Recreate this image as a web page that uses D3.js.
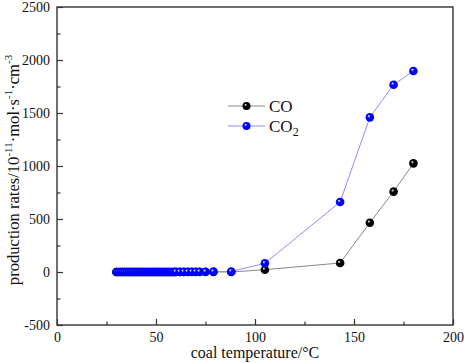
<!DOCTYPE html>
<html>
<head>
<meta charset="utf-8">
<style>
  body { margin: 0; background: #fff; }
  svg text { font-family: "Liberation Serif", "Times New Roman", serif; fill: #111; }
</style>
</head>
<body>
<svg id="chart" width="464" height="363"></svg>
<script src="https://d3js.org/d3.v7.min.js"></script>
<script>
// temperatures (°C)
var temps = [30, 31, 32, 33, 34, 35, 36, 37, 38, 39, 40, 41, 42, 43, 44, 45, 46, 47, 48, 49, 50,
             51, 52, 53, 54, 55, 56, 57, 58, 59, 60, 62, 64, 66, 68, 70, 72, 75, 79, 88,
             105, 143, 158, 170, 180];
// production rates, 10^-11 mol/(s·cm3)
var coVals = [0, 0, 0, 0, 0, 0, 0, 0, 0, 0, 0, 0, 0, 0, 0, 0, 0, 0, 0, 0, 0,
              0, 0, 0, 0, 0, 0, 0, 0, 0, 0, 0, 0, 0, 0, 0, 0, 0, 0, 0,
              22, 85, 465, 758, 1025];
var co2Vals = [0, 0, 0, 0, 0, 0, 0, 0, 0, 0, 0, 0, 0, 0, 0, 0, 0, 0, 0, 0, 0,
               0, 0, 0, 0, 0, 0, 0, 0, 0, 1, 1, 1, 2, 2, 3, 3, 3, 4, 5,
               82, 660, 1459, 1767, 1896];

var xTicks = [0, 50, 100, 150, 200];
var yTicks = [-500, 0, 500, 1000, 1500, 2000, 2500];

var series = [
    { name: "CO", values: coVals, line: "#888888", dot: "#000000" },
    { name: "CO2", values: co2Vals, line: "#8c8cff", dot: "#0000ff" }
];

var svg = d3.select("#chart");
var mLeft = 57, mRight = 453, mTop = 7, mBottom = 325;

var x = d3.scaleLinear().domain([0, 200]).range([mLeft, mRight]);
var y = d3.scaleLinear().domain([-500, 2500]).range([mBottom, mTop]);

// sphere gradients for markers
var defs = svg.append("defs");
series.forEach(function (s, i) {
    var g = defs.append("radialGradient")
        .attr("id", "ball" + i)
        .attr("cx", "50%").attr("cy", "50%").attr("r", "55%")
        .attr("fx", "35%").attr("fy", "32%");
    g.append("stop").attr("offset", "0%").attr("stop-color", "#ffffff");
    g.append("stop").attr("offset", "35%").attr("stop-color", s.dot);
    g.append("stop").attr("offset", "100%").attr("stop-color", s.dot);
});

// frame
svg.append("rect")
    .attr("x", mLeft).attr("y", mTop)
    .attr("width", mRight - mLeft).attr("height", mBottom - mTop)
    .attr("fill", "none").attr("stroke", "#333").attr("stroke-width", 1.4);

// x axis (ticks inside)
var xAxis = svg.append("g").attr("transform", "translate(0," + mBottom + ")")
    .call(d3.axisBottom(x).tickValues(d3.range(0, 201, 25)).tickSize(-5).tickFormat(function (d) {
        return xTicks.indexOf(d) >= 0 ? d : "";
    }));
xAxis.select(".domain").remove();
xAxis.selectAll("line").attr("stroke", "#333").attr("stroke-width", 1.2)
    .attr("y2", function (d) { return xTicks.indexOf(d) >= 0 ? -6 : -3.5; });
xAxis.selectAll("text").attr("y", 7).attr("font-size", 14);

// y axis (ticks inside)
var yAxis = svg.append("g").attr("transform", "translate(" + mLeft + ",0)")
    .call(d3.axisLeft(y).tickValues(d3.range(-500, 2501, 250)).tickSize(-5).tickFormat(function (d) {
        return yTicks.indexOf(d) >= 0 ? d : "";
    }));
yAxis.select(".domain").remove();
yAxis.selectAll("line").attr("stroke", "#333").attr("stroke-width", 1.2)
    .attr("x2", function (d) { return yTicks.indexOf(d) >= 0 ? 6 : 3.5; });
yAxis.selectAll("text").attr("x", -7).attr("font-size", 14);

// lines and markers
var line = d3.line()
    .x(function (d) { return x(d[0]); })
    .y(function (d) { return y(d[1]); });

series.forEach(function (s, i) {
    var pts = temps.map(function (t, j) { return [t, s.values[j]]; });
    svg.append("path").datum(pts)
        .attr("d", line).attr("fill", "none")
        .attr("stroke", s.line).attr("stroke-width", 1);
    svg.append("g").selectAll("circle").data(pts).enter().append("circle")
        .attr("cx", function (d) { return x(d[0]); })
        .attr("cy", function (d) { return y(d[1]); })
        .attr("r", 4.3)
        .attr("fill", "url(#ball" + i + ")");
});

// legend
var legend = svg.append("g");
series.forEach(function (s, i) {
    var ly = 106 + i * 20;
    legend.append("line").attr("x1", 228).attr("x2", 265).attr("y1", ly).attr("y2", ly)
        .attr("stroke", s.line).attr("stroke-width", 1);
    legend.append("circle").attr("cx", 246.5).attr("cy", ly).attr("r", 4)
        .attr("fill", "url(#ball" + i + ")");
    var t = legend.append("text").attr("x", 269).attr("y", ly + 6).attr("font-size", 17);
    t.append("tspan").text("CO");
    if (s.name === "CO2") {
        t.append("tspan").attr("font-size", 12).attr("dy", 4).text("2");
    }
});

// axis titles
svg.append("text")
    .attr("x", 255).attr("y", 358)
    .attr("text-anchor", "middle").attr("font-size", 16)
    .text("coal temperature/°C");

var yl = svg.append("text")
    .attr("transform", "translate(19,170) rotate(-90)")
    .attr("text-anchor", "middle").attr("font-size", 16.6);
yl.append("tspan").text("production rates/10");
yl.append("tspan").attr("font-size", 11).attr("dy", -7).text("-11");
yl.append("tspan").attr("dy", 7).text("·mol·s");
yl.append("tspan").attr("font-size", 11).attr("dy", -7).text("-1");
yl.append("tspan").attr("dy", 7).text("·cm");
yl.append("tspan").attr("font-size", 11).attr("dy", -7).text("-3");
</script>
</body>
</html>
